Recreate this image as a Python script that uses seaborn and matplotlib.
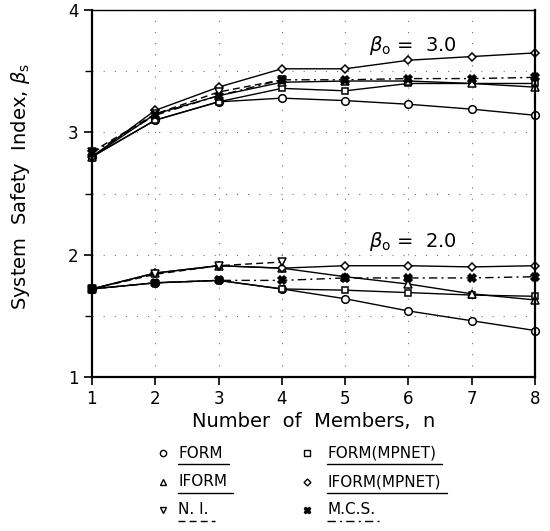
import numpy as np
import pandas as pd
import seaborn as sns
import matplotlib.pyplot as plt
from matplotlib.lines import Line2D

# Datos
n_members = [1, 2, 3, 4, 5, 6, 7, 8]
n_ni = [1, 2, 3, 4]

# beta_0 = 3.0
form_3 = [2.80, 3.10, 3.25, 3.28, 3.26, 3.23, 3.19, 3.14]
form_mpnet_3 = [2.80, 3.10, 3.25, 3.36, 3.34, 3.40, 3.40, 3.40]
iform_3 = [2.80, 3.15, 3.30, 3.41, 3.42, 3.42, 3.40, 3.37]
iform_mpnet_3 = [2.80, 3.18, 3.37, 3.52, 3.52, 3.59, 3.62, 3.65]
ni_3 = [2.84, 3.15, 3.33, 3.43]
mcs_3 = [2.83, 3.14, 3.30, 3.43, 3.43, 3.44, 3.44, 3.45]

# beta_0 = 2.0
form_2 = [1.72, 1.77, 1.79, 1.72, 1.64, 1.54, 1.46, 1.38]
form_mpnet_2 = [1.72, 1.77, 1.79, 1.72, 1.71, 1.69, 1.67, 1.66]
iform_2 = [1.72, 1.85, 1.91, 1.89, 1.82, 1.76, 1.68, 1.63]
iform_mpnet_2 = [1.72, 1.85, 1.91, 1.89, 1.91, 1.91, 1.90, 1.91]
ni_2 = [1.72, 1.84, 1.91, 1.94]
mcs_2 = [1.72, 1.77, 1.79, 1.79, 1.81, 1.81, 1.81, 1.82]

methods = ["FORM", "FORM(MPNET)", "IFORM", "IFORM(MPNET)", "N. I.", "M.C.S."]
series = {
    "FORM": (n_members, form_3, form_2),
    "FORM(MPNET)": (n_members, form_mpnet_3, form_mpnet_2),
    "IFORM": (n_members, iform_3, iform_2),
    "IFORM(MPNET)": (n_members, iform_mpnet_3, iform_mpnet_2),
    "N. I.": (n_ni, ni_3, ni_2),
    "M.C.S.": (n_members, mcs_3, mcs_2),
}

rows = []
for m in methods:
    xs, hi, lo = series[m]
    for x, y in zip(xs, hi):
        rows.append((m, "3.0", x, y))
    for x, y in zip(xs, lo):
        rows.append((m, "2.0", x, y))
df = pd.DataFrame(rows, columns=["method", "beta0", "n", "beta"])

# estilo de cada metodo: marcador, relleno, tipo de linea, tamano
estilos = {
    "FORM": ("o", "white", "-", 5.5),
    "FORM(MPNET)": ("s", "white", "-", 5.0),
    "IFORM": ("^", "white", "-", 5.5),
    "IFORM(MPNET)": ("D", "white", "-", 4.5),
    "N. I.": ("v", "white", (0, (5, 3)), 5.5),
    "M.C.S.": ("X", "black", (0, (6, 3, 1.5, 3)), 5.5),
}

sns.set_style("ticks")
plt.rcParams["font.family"] = ["DejaVu Sans"]
for k in ["text.color", "axes.labelcolor", "xtick.color", "ytick.color"]:
    plt.rcParams[k] = "black"

fig = plt.figure(figsize=(5.5, 5.31), dpi=100)
ax = fig.add_axes([0.167, 0.290, 0.806, 0.691])

for m in methods:
    mk, fc, ls, ms = estilos[m]
    sns.lineplot(
        data=df[df["method"] == m],
        x="n",
        y="beta",
        units="beta0",
        estimator=None,
        color="black",
        lw=1.0,
        linestyle=ls,
        marker=mk,
        markersize=ms,
        markerfacecolor=fc,
        markeredgecolor="black",
        markeredgewidth=1.1,
        clip_on=False,
        legend=False,
        ax=ax,
    )

ax.set_xlim(1, 8)
ax.set_ylim(1, 4)
ax.set_xticks(n_members)
ax.set_yticks([1, 2, 3, 4])
ax.set_yticks([1.5, 2.5, 3.5], minor=True)
ax.tick_params(axis="both", which="major", labelsize=12, direction="out", length=6, width=1.2)
ax.tick_params(axis="y", which="minor", direction="out", length=5, width=1.0)
ax.grid(which="both", color="0.45", linestyle=(0, (1, 9)), linewidth=0.8)
for side in ["left", "bottom", "right"]:
    ax.spines[side].set_linewidth(1.6)
ax.spines["top"].set_linewidth(1.0)
for s in ax.spines.values():
    s.set_color("black")

ax.set_xlabel("Number  of  Members,  n", fontsize=14)
ax.xaxis.set_label_coords(0.5, -0.095)
ax.set_ylabel(r"System  Safety  Index, $\beta_\mathrm{s}$", fontsize=14)
ax.yaxis.set_label_coords(-0.135, 0.52)

ax.text(5.38, 3.71, r"$\beta_\mathrm{o}$ =  3.0", fontsize=14, va="center")
ax.text(5.38, 2.11, r"$\beta_\mathrm{o}$ =  2.0", fontsize=14, va="center")

# leyenda manual con etiquetas subrayadas
W, H = 550, 531
col_x = [(163, 178), (307, 327)]
row_y = [453, 482, 510]
textos = []
for i, m in enumerate(methods):
    col = i % 2
    row = i // 2
    mk, fc, ls, ms = estilos[m]
    mx, tx = col_x[col]
    y = 1 - row_y[row] / H
    fig.add_artist(
        Line2D([mx / W], [y], marker=mk, markersize=ms - 1, markerfacecolor=fc,
               markeredgecolor="black", markeredgewidth=1.0, linestyle="none",
               transform=fig.transFigure)
    )
    t = fig.text(tx / W, y, m, fontsize=11, va="center", ha="left")
    textos.append((t, ls, y))

fig.canvas.draw()
renderer = fig.canvas.get_renderer()
for t, ls, y in textos:
    bb = t.get_window_extent(renderer)
    x0 = bb.x0 / W
    x1 = (bb.x1 + 6) / W
    yu = y - 11 / H
    fig.add_artist(Line2D([x0, x1], [yu, yu], color="black", lw=1.0,
                          linestyle=ls, transform=fig.transFigure))

fig.savefig("out.png", dpi=100)
